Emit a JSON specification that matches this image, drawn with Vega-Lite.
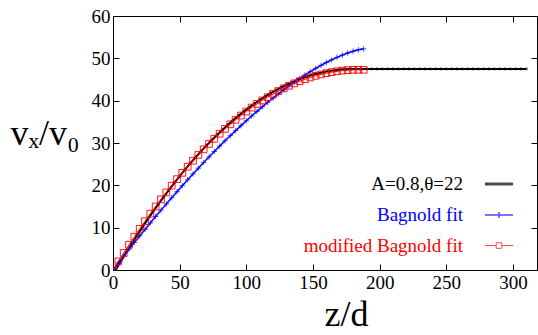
{
  "$schema": "https://vega.github.io/schema/vega-lite/v6.json",
  "width": 424,
  "height": 254,
  "autosize": {"type": "none"},
  "padding": {"left": 113, "top": 16, "right": 1, "bottom": 65},
  "background": "white",
  "config": {"view": {"stroke": "black", "strokeWidth": 1}, "font": "Liberation Serif",
    "axis": {"labelFont": "Liberation Serif", "titleFont": "Liberation Serif"},
    "legend": {"labelFont": "Liberation Serif"}},
  "data": {"values": [
    {"s":"k","z":2,"v":0},{"s":"k","z":6,"v":2.11},{"s":"k","z":10,"v":4.17},{"s":"k","z":14,"v":6.19},{"s":"k","z":18,"v":8.16},{"s":"k","z":22,"v":10.07},{"s":"k","z":26,"v":11.95},{"s":"k","z":30,"v":13.77},{"s":"k","z":34,"v":15.54},{"s":"k","z":38,"v":17.27},{"s":"k","z":42,"v":18.95},{"s":"k","z":46,"v":20.58},{"s":"k","z":50,"v":22.16},{"s":"k","z":54,"v":23.7},{"s":"k","z":58,"v":25.19},{"s":"k","z":62,"v":26.63},{"s":"k","z":66,"v":28.02},{"s":"k","z":70,"v":29.36},{"s":"k","z":74,"v":30.66},{"s":"k","z":78,"v":31.9},{"s":"k","z":82,"v":33.1},{"s":"k","z":86,"v":34.25},{"s":"k","z":90,"v":35.36},{"s":"k","z":94,"v":36.41},{"s":"k","z":98,"v":37.42},{"s":"k","z":102,"v":38.38},{"s":"k","z":106,"v":39.29},{"s":"k","z":110,"v":40.15},{"s":"k","z":114,"v":40.97},{"s":"k","z":118,"v":41.74},{"s":"k","z":122,"v":42.46},{"s":"k","z":126,"v":43.13},{"s":"k","z":130,"v":43.75},{"s":"k","z":134,"v":44.33},{"s":"k","z":138,"v":44.86},{"s":"k","z":142,"v":45.34},{"s":"k","z":146,"v":45.77},{"s":"k","z":150,"v":46.15},{"s":"k","z":154,"v":46.49},{"s":"k","z":158,"v":46.77},{"s":"k","z":162,"v":47.01},{"s":"k","z":166,"v":47.21},{"s":"k","z":170,"v":47.35},{"s":"k","z":174,"v":47.45},{"s":"k","z":178,"v":47.5},
    {"s":"k","z":182,"v":47.5},{"s":"k","z":186,"v":47.5},{"s":"k","z":190,"v":47.5},{"s":"k","z":194,"v":47.5},{"s":"k","z":198,"v":47.5},{"s":"k","z":202,"v":47.5},{"s":"k","z":206,"v":47.5},{"s":"k","z":210,"v":47.5},{"s":"k","z":214,"v":47.5},{"s":"k","z":218,"v":47.5},{"s":"k","z":222,"v":47.5},{"s":"k","z":226,"v":47.5},{"s":"k","z":230,"v":47.5},{"s":"k","z":234,"v":47.5},{"s":"k","z":238,"v":47.5},{"s":"k","z":242,"v":47.5},{"s":"k","z":246,"v":47.5},{"s":"k","z":250,"v":47.5},{"s":"k","z":254,"v":47.5},{"s":"k","z":258,"v":47.5},{"s":"k","z":262,"v":47.5},{"s":"k","z":266,"v":47.5},{"s":"k","z":270,"v":47.5},{"s":"k","z":274,"v":47.5},{"s":"k","z":278,"v":47.5},{"s":"k","z":282,"v":47.5},{"s":"k","z":286,"v":47.5},{"s":"k","z":290,"v":47.5},{"s":"k","z":294,"v":47.5},{"s":"k","z":298,"v":47.5},{"s":"k","z":302,"v":47.5},{"s":"k","z":306,"v":47.5},{"s":"k","z":310,"v":47.5},
    {"s":"b","z":0,"v":0},{"s":"b","z":4,"v":1.64},{"s":"b","z":8,"v":3.27},{"s":"b","z":12,"v":4.88},{"s":"b","z":16,"v":6.47},{"s":"b","z":20,"v":8.04},{"s":"b","z":24,"v":9.59},{"s":"b","z":28,"v":11.12},{"s":"b","z":32,"v":12.64},{"s":"b","z":36,"v":14.14},{"s":"b","z":40,"v":15.61},{"s":"b","z":44,"v":17.07},{"s":"b","z":48,"v":18.51},{"s":"b","z":52,"v":19.93},{"s":"b","z":56,"v":21.32},{"s":"b","z":60,"v":22.7},{"s":"b","z":64,"v":24.06},{"s":"b","z":68,"v":25.39},{"s":"b","z":72,"v":26.7},{"s":"b","z":76,"v":27.99},{"s":"b","z":80,"v":29.26},{"s":"b","z":84,"v":30.51},{"s":"b","z":88,"v":31.73},{"s":"b","z":92,"v":32.93},{"s":"b","z":96,"v":34.1},{"s":"b","z":100,"v":35.25},{"s":"b","z":104,"v":36.37},{"s":"b","z":108,"v":37.47},{"s":"b","z":112,"v":38.54},{"s":"b","z":116,"v":39.59},{"s":"b","z":120,"v":40.6},{"s":"b","z":124,"v":41.59},{"s":"b","z":128,"v":42.55},{"s":"b","z":132,"v":43.48},{"s":"b","z":136,"v":44.38},{"s":"b","z":140,"v":45.24},{"s":"b","z":144,"v":46.07},{"s":"b","z":148,"v":46.86},{"s":"b","z":152,"v":47.62},{"s":"b","z":156,"v":48.34},{"s":"b","z":160,"v":49.02},{"s":"b","z":164,"v":49.65},{"s":"b","z":168,"v":50.24},{"s":"b","z":172,"v":50.77},{"s":"b","z":176,"v":51.25},{"s":"b","z":180,"v":51.67},{"s":"b","z":184,"v":52.01},{"s":"b","z":188,"v":52.24},
    {"s":"r","z":0,"v":0},{"s":"r","z":4,"v":2.03},{"s":"r","z":8,"v":4.02},{"s":"r","z":12,"v":5.97},{"s":"r","z":16,"v":7.87},{"s":"r","z":20,"v":9.72},{"s":"r","z":24,"v":11.53},{"s":"r","z":28,"v":13.3},{"s":"r","z":32,"v":15.02},{"s":"r","z":36,"v":16.7},{"s":"r","z":40,"v":18.33},{"s":"r","z":44,"v":19.92},{"s":"r","z":48,"v":21.46},{"s":"r","z":52,"v":22.96},{"s":"r","z":56,"v":24.41},{"s":"r","z":60,"v":25.82},{"s":"r","z":64,"v":27.18},{"s":"r","z":68,"v":28.5},{"s":"r","z":72,"v":29.78},{"s":"r","z":76,"v":31.0},{"s":"r","z":80,"v":32.19},{"s":"r","z":84,"v":33.33},{"s":"r","z":88,"v":34.42},{"s":"r","z":92,"v":35.48},{"s":"r","z":96,"v":36.48},{"s":"r","z":100,"v":37.44},{"s":"r","z":104,"v":38.36},{"s":"r","z":108,"v":39.23},{"s":"r","z":112,"v":40.06},{"s":"r","z":116,"v":40.84},{"s":"r","z":120,"v":41.58},{"s":"r","z":124,"v":42.27},{"s":"r","z":128,"v":42.92},{"s":"r","z":132,"v":43.52},{"s":"r","z":136,"v":44.08},{"s":"r","z":140,"v":44.6},{"s":"r","z":144,"v":45.06},{"s":"r","z":148,"v":45.49},{"s":"r","z":152,"v":45.87},{"s":"r","z":156,"v":46.2},{"s":"r","z":160,"v":46.5},{"s":"r","z":164,"v":46.74},{"s":"r","z":168,"v":46.94},{"s":"r","z":172,"v":47.1},{"s":"r","z":176,"v":47.21},{"s":"r","z":180,"v":47.28},{"s":"r","z":184,"v":47.3},{"s":"r","z":188,"v":47.3}
  ]},
  "layer": [
    {
      "mark": {"type": "line", "clip": true},
      "encoding": {
        "x": {"field": "z", "type": "quantitative", "scale": {"domain": [0, 318], "nice": false, "zero": false},
          "axis": {"orient": "bottom", "values": [0,50,100,150,200,250,300], "tickSize": -6, "tickColor": "black", "domain": false, "grid": false,
            "labelFont": "Liberation Serif", "labelFontSize": 19, "labelColor": "black", "labelPadding": 9, "labelFlush": false, "labelOverlap": false,
            "title": "z/d", "titleFont": "Liberation Serif", "titleFontSize": 36, "titleFontWeight": "normal", "titleColor": "black",
            "titleX": 233, "titleY": 55, "titleBaseline": "alphabetic", "titleAlign": "center"}},
        "y": {"field": "v", "type": "quantitative", "scale": {"domain": [0, 60], "nice": false},
          "axis": {"orient": "left", "values": [0,10,20,30,40,50,60], "tickSize": -6, "tickColor": "black", "domain": false, "grid": false,
            "labelFont": "Liberation Serif", "labelFontSize": 19, "labelColor": "black", "labelPadding": 9, "labelFlush": false, "labelOverlap": false,
            "title": "vₓ/v₀", "titleFont": "Liberation Serif", "titleFontSize": 36, "titleFontWeight": "normal", "titleColor": "black",
            "titleAngle": 0, "titleAlign": "right", "titleBaseline": "middle", "titleX": -34, "titleY": 117}},
        "color": {"field": "s", "type": "nominal", "scale": {"domain": ["k","b","r"], "range": ["#000000","#0000ff","#ff0000"]}},
        "strokeWidth": {"field": "s", "type": "nominal", "scale": {"domain": ["k","b","r"], "range": [2, 1, 1.2]}, "legend": null}
      }
    },
    {
      "transform": [{"filter": "datum.s == 'k'"}],
      "mark": {"type": "point", "filled": false, "clip": true, "strokeWidth": 1, "size": 5, "shape": "circle"},
      "encoding": {
        "x": {"field": "z", "type": "quantitative",
          "axis": {"orient": "top", "values": [0,50,100,150,200,250,300], "tickSize": -6, "tickColor": "black", "domain": false, "grid": false, "labels": false, "title": null}},
        "y": {"field": "v", "type": "quantitative",
          "axis": {"orient": "right", "values": [0,10,20,30,40,50,60], "tickSize": -6, "tickColor": "black", "domain": false, "grid": false, "labels": false, "title": null}},
        "color": {"field": "s", "type": "nominal"}
      }
    },
    {
      "transform": [{"filter": "datum.s == 'b'"}],
      "mark": {"type": "point", "filled": false, "clip": true, "strokeWidth": 1, "size": 30, "shape": "M-1,0H1M0,-1V1"},
      "encoding": {
        "x": {"field": "z", "type": "quantitative", "axis": null},
        "y": {"field": "v", "type": "quantitative", "axis": null},
        "color": {"field": "s", "type": "nominal"}
      }
    },
    {
      "transform": [{"filter": "datum.s == 'r'"}],
      "mark": {"type": "point", "filled": false, "clip": true, "strokeWidth": 1, "size": 45, "opacity": 0.9, "shape": "M-1,-1H1V1H-1Z"},
      "encoding": {
        "x": {"field": "z", "type": "quantitative", "axis": null},
        "y": {"field": "v", "type": "quantitative", "axis": null},
        "color": {"field": "s", "type": "nominal"}
      }
    },
    {
      "transform": [{"filter": "false"}],
      "mark": {"type": "point", "filled": false, "strokeWidth": 1},
      "encoding": {
        "x": {"field": "z", "type": "quantitative", "axis": null},
        "y": {"field": "v", "type": "quantitative", "axis": null},
        "color": {"field": "s", "type": "nominal",
          "legend": {"orient": "none", "legendX": 371, "legendY": 153, "title": null, "padding": 0,
            "labelFont": "Liberation Serif", "labelFontSize": 19, "labelAlign": "right", "labelOffset": -51, "labelLimit": 400,
            "symbolSize": 784, "rowPadding": 6, "symbolOpacity": 1,
            "labelColor": {"expr": "datum.value == 'b' ? '#0000ff' : datum.value == 'r' ? '#ff0000' : '#000000'"},
            "labelExpr": "datum.value == 'k' ? 'A=0.8,θ=22' : datum.value == 'b' ? 'Bagnold fit' : 'modified Bagnold fit'"}},
        "shape": {"field": "s", "type": "nominal",
          "scale": {"domain": ["k","b","r"], "range": ["M-1,-0.035H1M-1,0H1M-1,0.035H1", "M-1,0H1M0,-0.22V0.22", "M-1,0H-0.2M0.2,0H1M-0.2,-0.2H0.2V0.2H-0.2Z"]},
          "legend": {"orient": "none", "legendX": 371, "legendY": 153, "title": null, "padding": 0,
            "labelFont": "Liberation Serif", "labelFontSize": 19, "labelAlign": "right", "labelOffset": -51, "labelLimit": 400,
            "symbolSize": 784, "rowPadding": 6, "symbolOpacity": 1,
            "labelColor": {"expr": "datum.value == 'b' ? '#0000ff' : datum.value == 'r' ? '#ff0000' : '#000000'"},
            "labelExpr": "datum.value == 'k' ? 'A=0.8,θ=22' : datum.value == 'b' ? 'Bagnold fit' : 'modified Bagnold fit'"}}
      }
    }
  ],
  "resolve": {"axis": {"x": "independent", "y": "independent"}}
}
